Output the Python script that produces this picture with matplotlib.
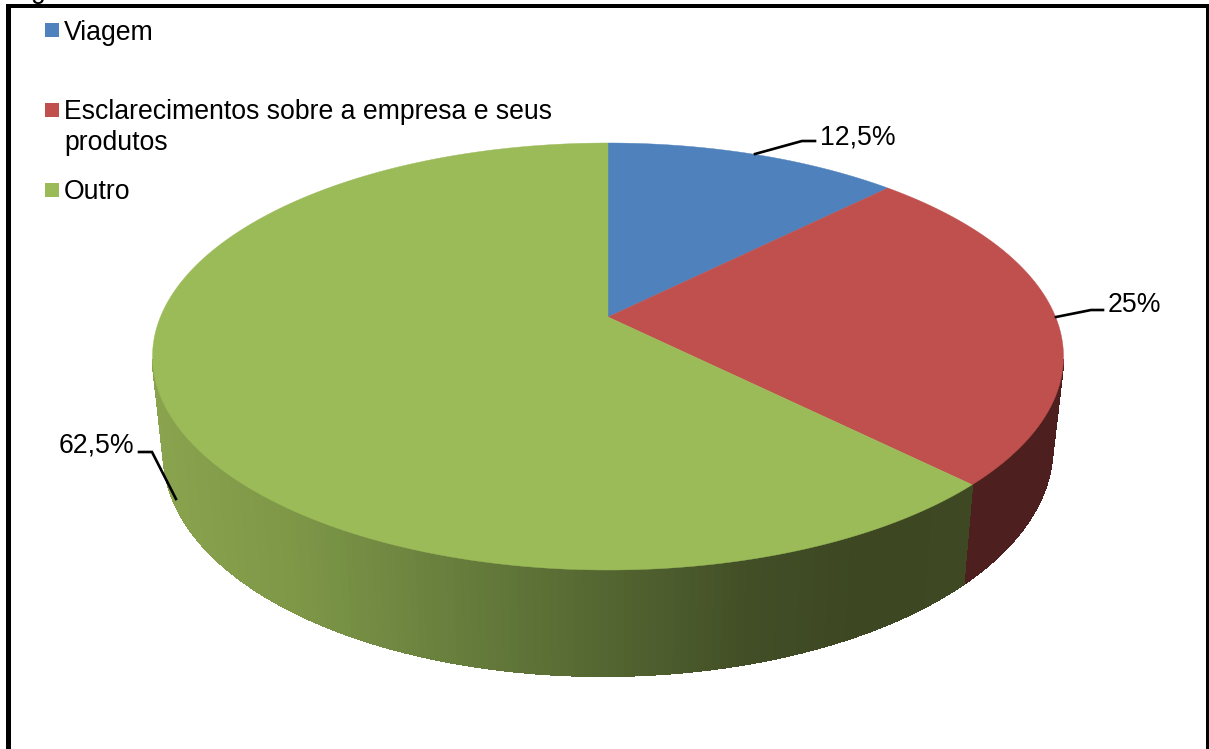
"""Pseudo-3D pie of contact reasons, drawn in pixel coordinates."""

import matplotlib
matplotlib.use("Agg")
import matplotlib.pyplot as plt
from matplotlib.collections import PolyCollection
from matplotlib.colors import to_rgb
from matplotlib.patches import Polygon, Rectangle
import numpy as np

plt.rcParams["font.family"] = ["Liberation Sans", "DejaVu Sans"]

categories = ["Viagem", "Esclarecimentos sobre a empresa e seus\nprodutos", "Outro"]
values = [12.5, 25, 62.5]
value_labels = ["12,5%", "25%", "62,5%"]

top_colors = ["#4f81bd", "#c0504d", "#9bbb59"]
red_side = "#4e1f1f"
blue_side = "#2a4565"
# side of the green slice darkens from left to right
green_shade_x = [150, 300, 400, 580, 750, 850, 1000]
green_shade_c = ["#8aa44f", "#7d9747", "#6f8741", "#576a33", "#414e26", "#3d4822", "#3e4923"]

# perspective of the top disc
CX, CY = 608.0, 317.0
A, B, K = 447.6, 206.2, -0.185


def top_rim(theta):
    u, v = np.sin(theta), -np.cos(theta)
    w = 1 + K * v
    return CX + A * u / w, CY + B * v / w


def bottom_rim(theta):
    u, v = np.sin(theta), -np.cos(theta)
    x, y = top_rim(theta)
    return 608.5 + 0.976 * (x - 608.5), y + 91 + 15 * v - 3 * u


def green_shade(x):
    rgb = np.array([to_rgb(c) for c in green_shade_c])
    return [np.interp(x, green_shade_x, rgb[:, i]) for i in range(3)]


fig = plt.figure(figsize=(12.09, 7.49), dpi=100)
ax = fig.add_axes([0, 0, 1, 1])
ax.set_xlim(0, 1209)
ax.set_ylim(749, 0)
ax.axis("off")

# wedge limits, clockwise from 12 o'clock
edges = 2 * np.pi * np.cumsum([0] + values) / np.sum(values)

# side wall first, the top disc covers whatever sticks out behind it
for i in range(len(values)):
    th = np.linspace(edges[i], edges[i + 1], 260)
    th = th[-np.cos(th) > 0.2]
    if len(th) < 2:
        continue
    x0, y0 = top_rim(th)
    x1, y1 = bottom_rim(th)
    quads, colors = [], []
    for j in range(len(th) - 1):
        quads.append([(x0[j], y0[j]), (x0[j + 1], y0[j + 1]), (x1[j + 1], y1[j + 1]), (x1[j], y1[j])])
        if i == 2:
            colors.append(green_shade((x1[j] + x1[j + 1]) / 2))
        else:
            colors.append(red_side if i == 1 else blue_side)
    ax.add_collection(PolyCollection(quads, facecolors=colors, edgecolors=colors, linewidths=0.8,
                                     antialiaseds=False, zorder=2))

# top disc
for i in range(len(values)):
    th = np.linspace(edges[i], edges[i + 1], 300)
    x, y = top_rim(th)
    pts = np.column_stack([np.r_[CX, x], np.r_[CY, y]])
    ax.add_patch(Polygon(pts, closed=True, fc=top_colors[i], ec=top_colors[i], lw=0.3, zorder=3))

# leader lines and value labels
leader_x = [[755, 802, 815], [1056, 1091, 1103], [139, 152, 176]]
leader_y = [[154, 141, 141], [317, 310, 310], [452, 452, 499]]
label_x = [820, 1108, 59]
label_y = [144, 312, 452]
for i in range(len(values)):
    ax.plot(leader_x[i], leader_y[i], color="black", lw=1.9, solid_joinstyle="miter", zorder=4)
    ax.text(label_x[i], label_y[i], value_labels[i], fontsize=19.2, va="baseline", ha="left", color="black", zorder=5)

# legend
legend_box_y = [23, 103, 183]
legend_base_y = [39.5, 150, 199]
for i, name in enumerate(categories):
    ax.add_patch(Rectangle((45, legend_box_y[i]), 14, 14, fc=top_colors[i], ec="none", zorder=4))
    ax.text(64, legend_base_y[i], name, fontsize=19.2, va="baseline", ha="left", color="black",
            linespacing=1.23, zorder=5)

# border around the chart area, bottom edge falls outside the canvas
ax.add_patch(Rectangle((6, 4), 5, 745, fc="black", ec="none", zorder=6))
ax.add_patch(Rectangle((6, 4), 1203, 4, fc="black", ec="none", zorder=6))
ax.add_patch(Rectangle((1206, 4), 3, 745, fc="black", ec="none", zorder=6))

# tail of the heading line sitting above the chart
ax.text(31, -2, "g", fontsize=19.2, va="baseline", ha="left", color="black", clip_on=False)

fig.savefig("out.png", dpi=100)
